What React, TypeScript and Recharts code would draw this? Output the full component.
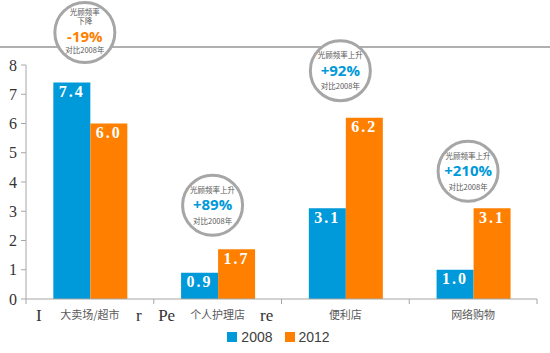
import React from 'react'
import { Bar, BarChart, LabelList, Legend, XAxis, YAxis } from 'recharts'

const categories = ['大卖场/超市', '个人护理店', '便利店', '网络购物']
const values2008 = [7.4, 0.9, 3.1, 1.0]
const values2012 = [6.0, 1.7, 6.2, 3.1]
const yTicks = [0, 1, 2, 3, 4, 5, 6, 7, 8]
// leftover bits of the original English labels peeking out
const labelFragments = [['I', 'r'], ['Pe', 're'], [], []]
const changeTitles = [['光顾频率', '下降'], ['光顾频率上升'], ['光顾频率上升'], ['光顾频率上升']]
const changeValues = ['-19%', '+89%', '+92%', '+210%']
const changeNote = '对比2008年'

const data = categories.map((name, i) => ({
  name,
  y2008: values2008[i],
  y2012: values2012[i]
}))

const BLUE = '#0099d9'
const ORANGE = '#ff8000'
const GRID = '#a6a6a6'

const W = 550
const H = 353
const margin = { top: 65, right: 13, left: 0, bottom: 3 }
const Y_WIDTH = 26
const band = (W - Y_WIDTH - margin.right) / categories.length

// vertical lift of each annotation circle above its 2012 bar
const circleLift = [91, 44, 47, 37]

const CategoryTick = (props: any) => {
  const { x, y, payload, index } = props
  const half = band / 2
  const frags = labelFragments[index] || []
  return (
    <g>
      <line x1={x - half} x2={x - half} y1={y} y2={y + 5} stroke={GRID} />
      {index === categories.length - 1 && (
        <line x1={x + half} x2={x + half} y1={y} y2={y + 5} stroke={GRID} />
      )}
      {frags[0] && (
        <text x={x - 51} y={y + 22} textAnchor='middle' fontFamily='Liberation Serif' fontSize={17} fill='#333'>
          {frags[0]}
        </text>
      )}
      {frags[1] && (
        <text x={x + 49} y={y + 22} textAnchor='middle' fontFamily='Liberation Serif' fontSize={17} fill='#333'>
          {frags[1]}
        </text>
      )}
      <text x={x} y={y + 20} textAnchor='middle' fontFamily='Noto Sans CJK SC' fontSize={11} fill='#595959'>
        {payload.value}
      </text>
    </g>
  )
}

const ChangeCircle = (props: any) => {
  const { x, y, width, index } = props
  const cx = x + width / 2 - 24
  const cy = y - circleLift[index]
  const title = changeTitles[index]
  const color = index === 0 ? ORANGE : BLUE
  const small = { fontFamily: 'Noto Sans CJK SC', fontSize: 7.5, fill: '#595959', textAnchor: 'middle' as const }
  const big = { fontFamily: 'Open Sans', fontSize: 15, fontWeight: 700, fill: color, textAnchor: 'middle' as const }
  return (
    <g>
      <circle cx={cx} cy={cy} r={30} fill='#fff' stroke={GRID} strokeWidth={3} />
      {title.length === 2 ? (
        <>
          <text x={cx} y={cy - 18} {...small}>{title[0]}</text>
          <text x={cx} y={cy - 8.5} {...small}>{title[1]}</text>
          <text x={cx} y={cy + 9} {...big}>{changeValues[index]}</text>
          <text x={cx} y={cy + 20.5} {...small}>{changeNote}</text>
        </>
      ) : (
        <>
          <text x={cx} y={cy - 12.5} {...small}>{title[0]}</text>
          <text x={cx} y={cy + 5} {...big}>{changeValues[index]}</text>
          <text x={cx} y={cy + 18.5} {...small}>{changeNote}</text>
        </>
      )}
    </g>
  )
}

const LegendContent = () => (
  <div
    style={{
      display: 'flex',
      justifyContent: 'center',
      alignItems: 'center',
      height: 26,
      paddingLeft: 20,
      fontFamily: 'Liberation Sans',
      fontSize: 14,
      color: '#404040'
    }}
  >
    <span style={{ width: 10, height: 10, background: BLUE, marginRight: 4 }} />
    <span style={{ marginRight: 12 }}>2008</span>
    <span style={{ width: 10, height: 10, background: ORANGE, marginRight: 4 }} />
    <span>2012</span>
  </div>
)

const valueLabel = {
  position: 'insideTop' as const,
  offset: 3,
  fill: '#fff',
  fontFamily: 'Liberation Serif',
  fontWeight: 700,
  fontSize: 16,
  letterSpacing: 2,
  formatter: (v: any) => Number(v).toFixed(1)
}

export default function App() {
  return (
    <div style={{ position: 'absolute', left: 0, top: 0, width: W, height: H, background: '#fff' }}>
      <div style={{ position: 'absolute', left: 0, top: 46, width: W, height: 2, background: '#b0b0b0' }} />
      <div style={{ position: 'absolute', left: 0, top: 0 }}>
        <BarChart width={W} height={H} data={data} margin={margin} barGap={0} barCategoryGap='21.4%'>
          <YAxis
            width={Y_WIDTH}
            domain={[0, 8]}
            ticks={yTicks}
            interval={0}
            axisLine={{ stroke: GRID }}
            tickLine={{ stroke: GRID }}
            tickSize={5}
            tickMargin={4}
            tick={{ fill: '#333', fontSize: 16, fontFamily: 'Liberation Serif' }}
          />
          <XAxis
            dataKey='name'
            height={25}
            interval={0}
            axisLine={{ stroke: GRID }}
            tickLine={false}
            tickSize={0}
            tickMargin={0}
            tick={<CategoryTick />}
          />
          <Legend verticalAlign='bottom' height={26} content={<LegendContent />} />
          <Bar dataKey='y2008' name='2008' fill={BLUE} isAnimationActive={false}>
            <LabelList dataKey='y2008' {...valueLabel} />
          </Bar>
          <Bar dataKey='y2012' name='2012' fill={ORANGE} isAnimationActive={false}>
            <LabelList dataKey='y2012' {...valueLabel} />
            <LabelList dataKey='y2012' content={<ChangeCircle />} />
          </Bar>
        </BarChart>
      </div>
    </div>
  )
}
